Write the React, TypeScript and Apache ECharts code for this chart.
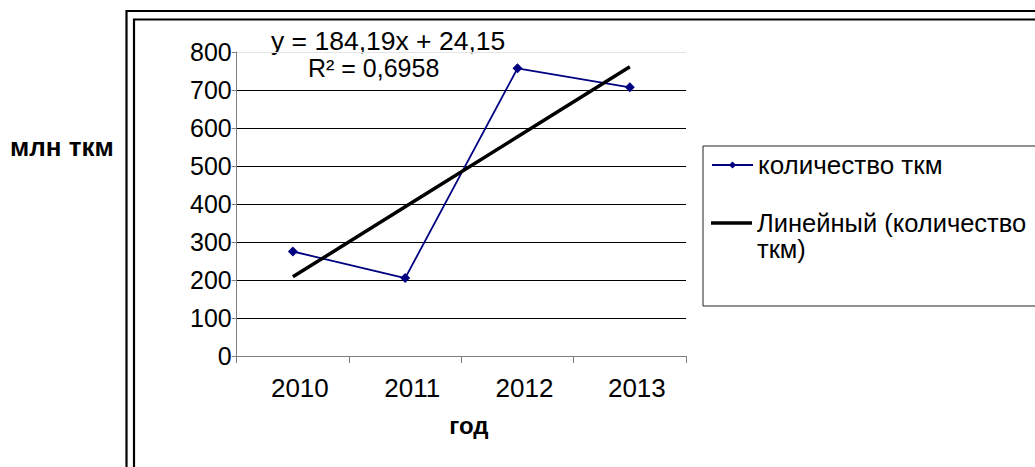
import React, { useEffect, useRef } from "react";
import * as echarts from "echarts";

const years = ["2010", "2011", "2012", "2013"];
const tkmValues = [275, 205, 757, 707];
// linear trend y = 184,19x + 24,15 evaluated at x = 1..4
const trendValues = [208.34, 392.53, 576.72, 760.91];
const yTicks = [0, 100, 200, 300, 400, 500, 600, 700, 800];
const seriesName = "количество ткм";
const trendName = "Линейный (количество ткм)";
const trendLegendLines = ["Линейный (количество", "ткм)"];
const equationText = "y = 184,19x + 24,15";
const r2Text = "R² = 0,6958";
const yAxisTitle = "млн ткм";
const xAxisTitle = "год";

const FONT = "'Liberation Sans', Arial, sans-serif";

export default function App() {
  const ref = useRef<HTMLDivElement>(null);
  useEffect(() => {
    if (!ref.current) return;
    const chart = echarts.init(ref.current, null, { renderer: "svg" });
    chart.setOption({
      animation: false,
      backgroundColor: "#fff",
      grid: { left: 236.7, right: 349, top: 52, bottom: 111, containLabel: false },
      xAxis: {
        type: "category",
        data: years,
        boundaryGap: true,
        axisLine: { show: true, lineStyle: { color: "#808080", width: 1 } },
        axisTick: { show: true, alignWithLabel: false, length: 7, lineStyle: { color: "#808080" } },
        axisLabel: { fontSize: 26, color: "#000", fontFamily: FONT, margin: 19, padding: [0, 0, 0, 14] },
        name: xAxisTitle,
        nameLocation: "middle",
        nameGap: 57,
        nameTextStyle: { fontSize: 24, fontWeight: "bold", color: "#000", fontFamily: FONT, padding: [0, 0, 0, 15] },
        splitLine: { show: false },
      },
      yAxis: {
        type: "value",
        min: yTicks[0],
        max: yTicks[yTicks.length - 1],
        interval: 100,
        axisLine: { show: true, lineStyle: { color: "#808080", width: 1 } },
        axisTick: { show: true, length: 5, lineStyle: { color: "#808080" } },
        axisLabel: { fontSize: 25, color: "#000", fontFamily: FONT, margin: 5, padding: [7, 0, 0, 0] },
        splitLine: {
          show: true,
          lineStyle: {
            color: ["#000", "#000", "#000", "#000", "#000", "#000", "#000", "#000", "#e4e4e4"],
            width: 1,
          },
        },
      },
      legend: [
        {
          data: [{ name: seriesName }],
          left: 711,
          top: 151,
          orient: "vertical",
          padding: 0,
          itemWidth: 41,
          itemHeight: 9,
          selectedMode: false,
          textStyle: { fontSize: 26, lineHeight: 28, color: "#000", fontFamily: FONT },
        },
        {
          data: [{ name: trendName, icon: "rect", itemStyle: { color: "#000" } }],
          formatter: () => trendLegendLines[0],
          left: 711,
          top: 222 - 12,
          orient: "vertical",
          padding: 0,
          itemWidth: 41,
          itemHeight: 3.5,
          selectedMode: false,
          textStyle: { fontSize: 25.5, lineHeight: 24, color: "#000", fontFamily: FONT },
        },
      ],
      series: [
        {
          name: seriesName,
          type: "line",
          data: tkmValues,
          symbol: "diamond",
          symbolSize: 10,
          lineStyle: { color: "#000080", width: 1.8 },
          itemStyle: { color: "#000080" },
          z: 2,
        },
        {
          name: trendName,
          type: "line",
          data: trendValues,
          symbol: "none",
          showSymbol: false,
          lineStyle: { color: "#000", width: 3.5 },
          itemStyle: { color: "#000" },
          z: 3,
        },
      ],
      graphic: [
        {
          type: "rect",
          shape: { x: 126.5, y: 11, width: 2000, height: 2000 },
          style: { fill: "none", stroke: "#000", lineWidth: 2.2 },
          silent: true,
        },
        {
          type: "rect",
          shape: { x: 134, y: 19.5, width: 2000, height: 2000 },
          style: { fill: "none", stroke: "#000", lineWidth: 2.2 },
          silent: true,
        },
        {
          type: "rect",
          shape: { x: 703, y: 146, width: 1000, height: 160 },
          style: { fill: "none", stroke: "#222", lineWidth: 1 },
          silent: true,
          z: -1,
        },
        {
          type: "text",
          x: 757,
          y: 249,
          style: { text: trendLegendLines[1], fontSize: 25.5, fill: "#000", fontFamily: FONT, verticalAlign: "middle" },
        },
        {
          type: "text",
          x: 10,
          y: 147,
          style: { text: yAxisTitle, fontSize: 26, fontWeight: "bold", fill: "#000", fontFamily: FONT, verticalAlign: "middle" },
        },
        {
          type: "text",
          x: 271,
          y: 40.5,
          style: { text: equationText, fontSize: 26.5, fill: "#000", fontFamily: FONT, verticalAlign: "middle" },
        },
        {
          type: "text",
          x: 308,
          y: 68,
          style: { text: r2Text, fontSize: 25, fill: "#000", fontFamily: FONT, verticalAlign: "middle" },
        },
      ],
    });
    return () => chart.dispose();
  }, []);
  return <div ref={ref} style={{ position: "absolute", left: 0, top: 0, width: 1035, height: 467 }} />;
}
